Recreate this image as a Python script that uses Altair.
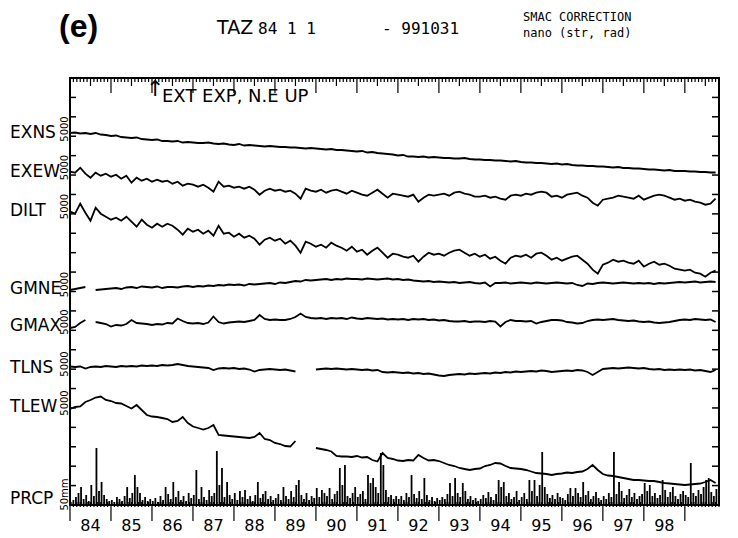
import altair as alt
import pandas as pd

# ---------------- data ----------------
T0 = 84.0            # 1984-01-01
STEP = 0.125         # sampling of the traces (years)
T_END = 99.0 + 10 / 12.0   # 1999-10-31
PSTEP = 1 / 16.0     # sampling of precipitation (years)

NAMES = ["EXNS", "EXEW", "DILT", "GMNE", "GMAX", "TLNS", "TLEW"]

EXNS = [0, 0.5, -0.5, 0, -1, 0, -1.5, -2,
        -3, -2.5, -4, -4.5, -5, -4.5, -6, -6.5,
        -7, -6.5, -8, -8, -8.5, -8, -9.5, -9,
        -9.5, -10, -10, -9.5, -10.5, -11, -10.5, -11.5,
        -12, -11, -12.5, -12, -12.5, -13, -13.5, -13,
        -13.5, -14, -14, -14.5, -14.5, -15, -15.5, -15,
        -15.5, -16, -16.5, -16, -17, -17, -17.5, -18,
        -18.5, -18, -19.5, -19, -20, -20.5, -21, -21.5,
        -22.5, -22, -23.5, -23.5, -24, -23.5, -24.5, -24,
        -24.5, -25, -25, -25.5, -25.5, -25, -26, -26.5,
        -26.5, -27, -27, -27.5, -27.5, -28, -28.5, -28,
        -29, -29.5, -29.5, -30, -30, -30.5, -31, -30.5,
        -31.5, -31, -32, -32.5, -32.5, -33, -33, -33.5,
        -33.5, -34, -34.5, -34, -35, -35, -35.5, -35.5,
        -36, -36.5, -36.5, -37, -37.5, -37, -38, -38,
        -38, -38.5, -38.5, -39, -39, -39.5, -39.5]

EXEW = [0, -1, 4, -2, -6, -1, -4, -2,
        -5, -3, -7, -4, -11, -6, -9, -7,
        -10, -8, -10, -9, -12, -10, -14, -12,
        -13, -15, -13, -16, -20, -10, -15, -14,
        -16, -15, -17, -15, -18, -23, -19, -17,
        -19, -18, -20, -19, -22, -27, -17, -19,
        -20, -18, -21, -19, -18, -20, -22, -19,
        -21, -23, -24, -21, -18, -22, -26, -22,
        -23, -24, -25, -23, -30, -26, -23, -24,
        -23, -22, -24, -21, -20, -22, -23, -25,
        -25, -24, -26, -25, -27, -28, -24, -23,
        -24, -22, -23, -21, -20, -21, -25, -24,
        -26, -23, -22, -21, -24, -26, -31, -34,
        -28, -27, -26, -24, -25, -26, -27, -24,
        -28, -26, -24, -23, -24, -26, -28, -27,
        -29, -28, -30, -31, -33, -32, -27]

DILT = [0, -2, 8, -1, -9, 4, -2, -5,
        -8, -6, -9, -5, -10, -15, -8, -13,
        -16, -12, -15, -12, -14, -18, -23, -17,
        -20, -18, -22, -19, -24, -14, -22, -21,
        -25, -22, -26, -24, -27, -33, -28, -26,
        -29, -27, -32, -29, -34, -41, -30, -32,
        -35, -33, -36, -31, -34, -36, -39, -35,
        -40, -38, -43, -39, -36, -41, -46, -42,
        -43, -45, -46, -44, -50, -45, -41, -43,
        -42, -44, -41, -39, -38, -41, -44, -42,
        -45, -43, -47, -45, -49, -52, -46, -44,
        -45, -43, -46, -42, -41, -44, -48, -46,
        -49, -47, -45, -44, -48, -52, -58, -62,
        -53, -51, -48, -50, -49, -51, -52, -49,
        -55, -52, -50, -53, -52, -54, -57, -58,
        -59, -58, -61, -62, -65, -61, -59]

GMNE = [0, 1, 2, 3, None, 0, 0.5, 1,
        1.5, 2, 1, 2.5, 3, 2, 3.5, 3,
        2.5, 3.5, 2, 3, 3, 2.5, 3.5, 4,
        3, 4, 3.5, 4.5, 4, 5, 4.5, 5.5,
        5, 5.5, 4.5, 6, 5.5, 6, 6.5, 7,
        6, 7.5, 7, 8, 9, 8.5, 10, 9.5,
        10, 10.5, 11, 10, 11, 10.5, 11.5, 11,
        11, 10.5, 11.5, 11, 10.5, 11, 11.5, 10.5,
        11, 10, 10.5, 9.5, 9, 8.5, 9, 8,
        8.5, 8, 7.5, 8, 7, 7.5, 8, 7,
        6.5, 7.5, 3.5, 7, 7, 7.5, 6.5, 7,
        7.5, 7, 6.5, 7.5, 7, 6.5, 7, 7.5,
        7, 6.5, 7, 5, 4, 6.5, 6, 7,
        7.5, 7, 6.5, 7, 7.5, 7, 6.5, 7,
        6.5, 7, 6, 7, 6.5, 7, 7.5, 8,
        7.5, 8, 8.5, 7.5, 8, 8.5, 8]

GMAX = [-3, -2, 2, 5, None, 3, 2, 1,
        -1.5, 0, -0.5, 1, 5, 2, 1.5, 1,
        0, 1, 0.5, 2, 1.5, 6.5, 4, 2,
        1.5, 2, 1, 2.5, 8.5, 3, 1.5, 2.5,
        3, 3.5, 3, 4, 5, 10, 6, 5,
        5.5, 5, 5, 6, 8, 11.5, 8, 7,
        6.5, 7, 6, 7, 6.5, 7, 6, 7.5,
        6.5, 6, 7, 6.5, 6, 6.5, 5.5, 6,
        5.5, 6, 5, 6, 5.5, 6, 5, 5.5,
        4.5, 5, 4, 3.5, 3.5, 4, 3, 3.5,
        3.5, 3, 4, 3.5, -1.5, 3, 5, 4,
        4, 3.5, 4, 1.5, 3, 4, 5, 5,
        4.5, 3, 2.5, 1.5, 2, 4, 5, 5.5,
        5, 5.5, 6, 5, 4.5, 4, 4.5, 3.5,
        3, 3.5, 2.5, 2, 2.5, 3, 4, 5,
        5.5, 5, 6, 5.5, 5, 5.5, 3]

TLNS = [0.5, 0, 0.5, -1.5, 0, 0.5, 0, 1,
        0.5, 0, 1, 0.5, 1, 0.5, 1.5, 1,
        1.5, 1, 2, 1.5, 2, 3, 2, 1,
        0.5, 0, -0.5, -1, -3, -1.5, -1, -1.5,
        -1, -2, -1.5, -2.5, -4.5, -3, -2.5, -2,
        -2.5, -3, -2.5, -3.5, -4.5, None, None, None,
        -2.5, -2, -1.5, -2, -1.5, -2, -2.5, -2,
        -2.5, -3, -2.5, -3.5, -3, -5, -5.5, -5,
        -5.5, -6, -5.5, -6.5, -6, -7, -6.5, -7.5,
        -8.5, -9, -8, -7.5, -7, -7.5, -6.5, -7,
        -6.5, -6, -6.5, -5.5, -6, -5, -5.5, -4.5,
        -5, -4.5, -4, -4.5, -3.5, -4, -5, -4.5,
        -4, -3.5, -4, -3, -3.5, -5, -8, -5,
        -2, -1.5, -1, -1.5, -1, -0.5, -1, -1.5,
        -1, -2, -2.5, -2, -3, -2.5, -3, -2.5,
        -3, -2.5, -3.5, -3, -4, -5, -3]

TLEW = [-1, 1, 1.5, 6, 8, 10.5, 11.5, 8,
        7, 5, 4.5, 2, -0.5, 3, -2, -7,
        -8.5, -9, -10, -11, -14, -13, -9, -15,
        -18.5, -20, -21.5, -20, -17, -27, -27.5, -28,
        -28.5, -29, -29.5, -30, -29, -25, -31, -32,
        -35, -36, -38, -38.5, -33, None, None, None,
        -40, -41, -42, -43.5, -48, -48.5, -48.5, -49,
        -48, -49.5, -49, -52, -53.5, -45, -50, -51,
        -52.5, -53, -52, -52.5, -47, -50, -52.5, -52,
        -53, -55, -57, -58, -60, -61, -62, -61,
        -60.5, -58, -57, -55, -55.5, -58, -60, -60.5,
        -61, -62, -63.5, -65, -65.5, -66, -67, -66,
        -65.5, -64.5, -65, -64, -63.5, -61, -57, -62,
        -66, -67.5, -68, -69, -70, -71, -72, -72,
        -72.5, -73, -73, -74, -75, -75.5, -76, -76.5,
        -77, -76.5, -76, -75.5, -74, -72, -75]

PRCP = [3, 5, 8, 12, 18, 6, 10, 4, 20, 9, 57, 14, 23, 10, 6, 4,
        5, 3, 8, 6, 4, 9, 18, 7, 12, 30, 18, 12, 5, 8, 4, 6,
        4, 7, 3, 9, 5, 18, 11, 6, 23, 8, 14, 5, 9, 4, 12, 7,
        10, 35, 6, 18, 8, 5, 15, 9, 12, 54, 20, 37, 8, 23, 10, 6,
        12, 5, 14, 8, 15, 6, 9, 4, 10, 23, 7, 11, 14, 6, 9, 5,
        7, 11, 5, 18, 9, 6, 14, 8, 20, 25, 10, 6, 12, 5, 9, 7,
        17, 8, 15, 12, 9, 17, 6, 11, 14, 37, 20, 40, 9, 7, 12, 18,
        8, 11, 14, 6, 30, 22, 27, 18, 12, 52, 40, 15, 8, 10, 6, 9,
        6, 9, 5, 12, 8, 30, 11, 7, 14, 6, 27, 10, 5, 8, 4, 7,
        5, 8, 6, 11, 22, 9, 27, 12, 8, 22, 14, 6, 9, 5, 7, 4,
        6, 10, 7, 13, 8, 5, 11, 25, 18, 23, 9, 12, 6, 8, 14, 5,
        8, 12, 6, 25, 14, 25, 9, 20, 53, 18, 11, 7, 10, 6, 12, 8,
        7, 5, 11, 17, 9, 17, 12, 8, 23, 10, 14, 6, 9, 13, 7, 5,
        9, 6, 12, 8, 53, 11, 23, 14, 7, 10, 16, 8, 12, 6, 9, 11,
        22, 14, 20, 9, 12, 7, 10, 25, 15, 8, 13, 18, 9, 6, 11, 14,
        10, 8, 42, 12, 9, 15, 11, 18, 25, 27, 13, 9, 16, 12]

YEAR_LABELS = [str(y) for y in range(84, 99)]
SCALE_LABELS = ["5000"] * 7 + ["50mm"]

# ---------------- layout (strip offsets of the stacked traces) ----------------
W, H = 649, 427
YMAX = 427.0
BASE = {"EXNS": 372, "EXEW": 333.3, "DILT": 293.3, "GMNE": 215,
        "GMAX": 180, "TLNS": 138, "TLEW": 97}
LABEL_V = [372, 333.5, 294.5, 216.5, 179, 137, 98, 6.5]
SERIES = {"EXNS": EXNS, "EXEW": EXEW, "DILT": DILT, "GMNE": GMNE,
          "GMAX": GMAX, "TLNS": TLNS, "TLEW": TLEW}

rows = []
for name in NAMES:
    seg = 0
    for i, val in enumerate(SERIES[name]):
        if val is None:
            seg += 1
            continue
        rows.append({"key": f"{name}_{seg}", "t": T0 + i * STEP, "v": BASE[name] + val})
lines_df = pd.DataFrame(rows)

prcp_df = pd.DataFrame({"t": [T0 + k * PSTEP + 0.02 for k in range(len(PRCP))],
                        "h": PRCP})
prcp_df["z"] = 0

xs = alt.Scale(domain=[T0, T_END], nice=False, zero=False)
ys = alt.Scale(domain=[0, YMAX], nice=False, zero=False)
X = lambda f: alt.X(f, scale=xs, axis=None)
Y = lambda f: alt.Y(f, scale=ys, axis=None)

lines = alt.Chart(lines_df).mark_line(color="black", strokeWidth=1.8).encode(
    x=X("t:Q"), y=Y("v:Q"), detail="key:N", order="t:Q")

prcp = alt.Chart(prcp_df).mark_rule(color="black", strokeWidth=1.8).encode(
    x=X("t:Q"), y=Y("z:Q"), y2="h:Q")

# ruler ticks
months = []
for m in range(0, 191):
    t = T0 + m / 12.0
    if t > T_END + 1e-9:
        break
    kind = "y" if m % 12 == 0 else ("h" if m % 12 == 6 else "m")
    tl = {"y": 15, "h": 8, "m": 4}[kind]
    months.append({"t": t, "kind": kind, "top1": YMAX, "top2": YMAX - tl,
                   "b1": -2 if kind != "y" else 0, "b2": 3 if kind != "y" else -16})
mdf = pd.DataFrame(months)

top_ticks = alt.Chart(mdf).mark_rule(color="black", strokeWidth=1.2).encode(
    x=X("t:Q"), y=Y("top1:Q"), y2="top2:Q")
bot_ticks = alt.Chart(mdf).mark_rule(color="black", strokeWidth=1.2).encode(
    x=X("t:Q"), y=Y("b1:Q"), y2="b2:Q")

ydiv = pd.DataFrame({"v": [k * YMAX / 22 for k in range(1, 22)]})
left_ticks = alt.Chart(ydiv).mark_rule(color="black", strokeWidth=1.5).encode(
    y=Y("v:Q"), x=alt.value(0), x2=alt.value(6))
right_ticks = alt.Chart(ydiv).mark_rule(color="black", strokeWidth=1.5).encode(
    y=Y("v:Q"), x=alt.value(642), x2=alt.value(649))

ylab_df = pd.DataFrame({"t": [int(s) + 0.5 for s in YEAR_LABELS], "lab": YEAR_LABELS})
ylab_df["v"] = -21
year_labels = alt.Chart(ylab_df).mark_text(
    font="DejaVu Sans", fontSize=16, color="black", baseline="middle", align="center"
).encode(x=X("t:Q"), y=Y("v:Q"), text="lab:N")

lab_df = pd.DataFrame({"name": NAMES + ["PRCP"], "v": LABEL_V, "sc": SCALE_LABELS})
lab_df["sv"] = lab_df["v"] + 4
name_labels = alt.Chart(lab_df).mark_text(
    font="DejaVu Sans", fontSize=17, color="black", align="left", baseline="middle"
).encode(x=alt.value(-60), y=Y("v:Q"), text="name:N")
scale_labels = alt.Chart(lab_df).mark_text(
    font="DejaVu Sans", fontSize=10, color="black", align="center", baseline="middle", angle=270
).encode(x=alt.value(-5), y=Y("sv:Q"), text="sc:N")


def note(txt, x, y, size, font="DejaVu Sans", weight="normal"):
    return alt.Chart(pd.DataFrame({"a": [0]})).mark_text(
        text=txt, font=font, fontSize=size, fontWeight=weight, color="black",
        align="left", baseline="middle").encode(x=alt.value(x), y=alt.value(y))


notes = [
    note("(e)", -11, -51, 32, "Liberation Sans", "bold"),
    note("TAZ", 147, -50, 19),
    note("84 1 1", 188, -49, 16, "DejaVu Sans Mono"),
    note("- 991031", 312, -49, 16, "DejaVu Sans Mono"),
    note("SMAC CORRECTION", 453, -61, 12, "DejaVu Sans Mono"),
    note("nano (str, rad)", 453, -45, 12, "DejaVu Sans Mono"),
    note("\u2191", 76, 11, 22),
    note("EXT EXP, N.E UP", 92, 19, 18),
]

chart = alt.layer(prcp, lines, top_ticks, bot_ticks, left_ticks, right_ticks,
                  year_labels, name_labels, scale_labels, *notes).properties(
    width=W, height=H,
    autosize=alt.AutoSizeParams(type="none"),
    padding={"left": 62, "top": 70, "right": 11, "bottom": 32},
    background="white",
).configure_view(stroke="black", strokeWidth=2)

chart.save("out.html", embed_options={"renderer": "svg", "actions": False})
